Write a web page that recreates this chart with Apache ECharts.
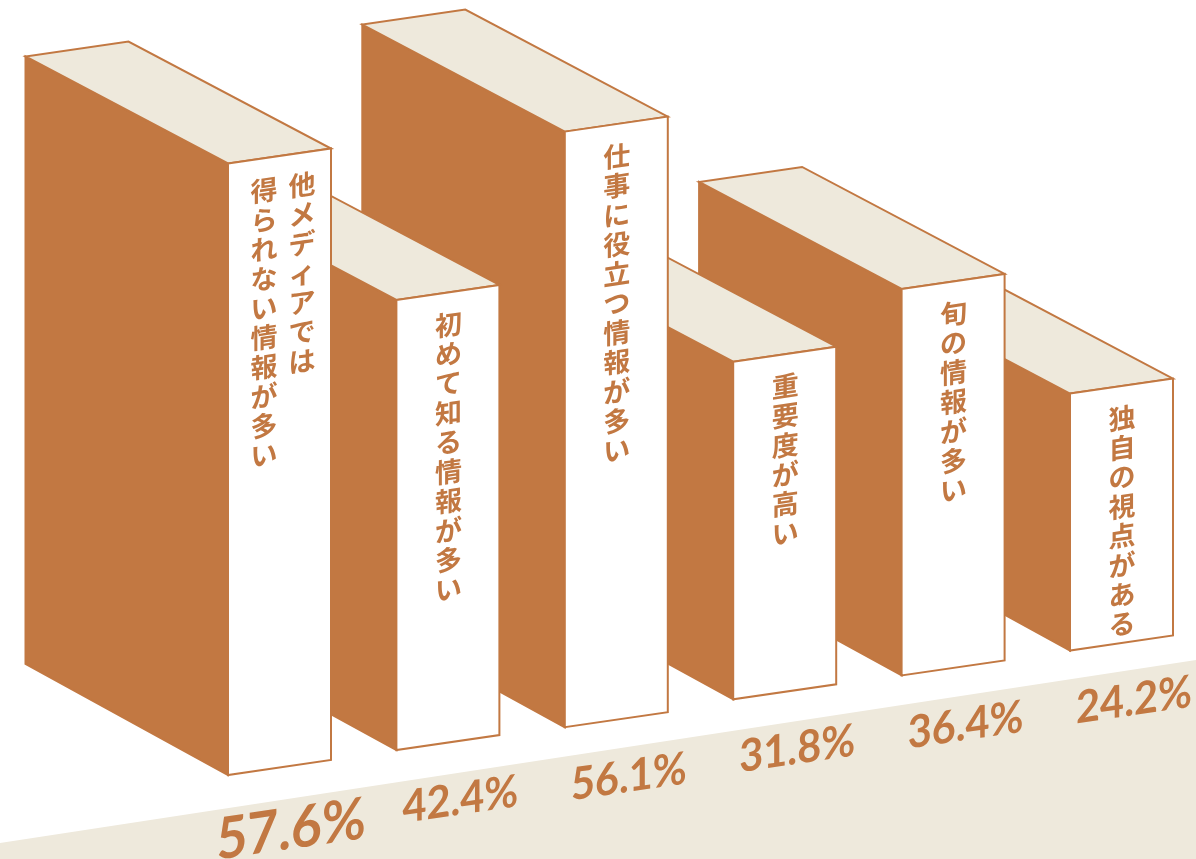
<!DOCTYPE html>
<html><head><meta charset="utf-8">
<style>html,body{margin:0;padding:0;background:#fff}#c{width:1196px;height:859px}</style>
<script src="https://cdn.jsdelivr.net/npm/echarts@6/dist/echarts.min.js"></script>
</head><body><div id="c"></div>
<script>
const categories = ["他メディアでは得られない情報が多い","初めて知る情報が多い","仕事に役立つ情報が多い","重要度が高い","旬の情報が多い","独自の視点がある"];
const labelColumns = [["他メディアでは","得られない情報が多い"],["初めて知る情報が多い"],["仕事に役立つ情報が多い"],["重要度が高い"],["旬の情報が多い"],["独自の視点がある"]];
const values = [57.6,42.4,56.1,31.8,36.4,24.2];

const ORANGE = "#C27842", BEIGE = "#EEE9DC";
const RISE = 24.9, SLOPE = 15/103, W = 103, DX = 202.5, DY_TOP = 107, DY_BOT = 111;
const NUDGE = [0, 0, 2, -1, 0, 0];
const maxV = Math.max(...values);

function renderBook(params, api) {
  const i = api.value(0), v = api.value(1);
  const p0 = api.coord([i, 0]), p1 = api.coord([i, v]);
  const x = p0[0], off = i * RISE - NUDGE[i], yb = p0[1] - off, yt = p1[1] - off, dW = W * SLOPE;
  const z = (values.length - i) * 10;
  const line = { stroke: ORANGE, lineWidth: 2, lineJoin: "miter" };
  const poly = (pts, fill, zz) => ({ type: "polygon", z2: z + zz, shape: { points: pts }, style: Object.assign({ fill }, line) });
  const children = [
    poly([[x, yt], [x - DX, yt - DY_TOP], [x - DX, yb - DY_BOT], [x, yb]], ORANGE, 0),
    poly([[x, yt], [x + W, yt - dW], [x + W - DX, yt - dW - DY_TOP], [x - DX, yt - DY_TOP]], BEIGE, 1),
    poly([[x, yt], [x + W, yt - dW], [x + W, yb - dW], [x, yb]], "#ffffff", 2)
  ];
  const cols = labelColumns[i];
  const offs = cols.length === 2 ? [74, 36] : [52];
  cols.forEach((col, c) => {
    const cx = x + offs[c];
    const top = yt - offs[c] * SLOPE;
    Array.from(col).forEach((ch, k) => {
      children.push({
        type: "text", z2: z + 3, x: cx, y: top + 32 + k * 29.4, skewY: SLOPE, silent: true,
        style: { text: ch, fill: ORANGE, fontFamily: "'Noto Sans CJK JP'", fontWeight: 700, fontSize: 27, align: "center", verticalAlign: "middle" }
      });
    });
  });
  const big = v === maxV;
  children.push({
    type: "text", z2: 500, x: x + (big ? 63 : 64), y: yb + (big ? 55 : 50), skewY: SLOPE, scaleX: 0.92, silent: true,
    style: { text: v.toFixed(1) + "%", fill: ORANGE, fontFamily: "Lato", fontWeight: 700, fontSize: big ? 58 : 45, align: "center", verticalAlign: "middle" }
  });
  return { type: "group", children };
}

function renderGround(params, api) {
  const w = api.getWidth(), h = api.getHeight();
  const yLeft = 843, yRight = 660;
  return { type: "polygon", z2: 0, shape: { points: [[0, yLeft], [w, yRight], [w, h], [0, h]] }, style: { fill: BEIGE } };
}

const chart = echarts.init(document.getElementById("c"), null, { renderer: "canvas" });
chart.setOption({
  animation: false,
  backgroundColor: "#fff",
  grid: { left: 143.8, right: 41.8, top: 0, bottom: 84 },
  xAxis: { type: "category", data: categories, show: false },
  yAxis: { type: "value", min: 0, max: 73, show: false },
  series: [
    { type: "custom", z: 1, clip: false, silent: true, renderItem: renderGround, data: [[0, 0]] },
    { type: "custom", z: 2, clip: false, renderItem: renderBook, data: values.map((v, i) => [i, v]), encode: { x: 0, y: 1 } }
  ]
});
</script></body></html>
